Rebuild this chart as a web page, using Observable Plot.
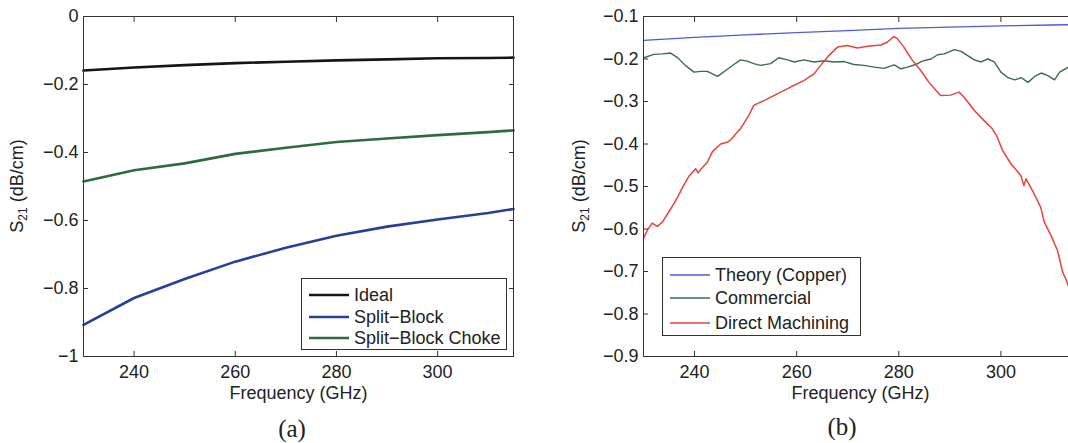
<!DOCTYPE html>
<html>
<head>
<meta charset="utf-8">
<script src="https://cdn.jsdelivr.net/npm/d3@7"></script>
<script src="https://cdn.jsdelivr.net/npm/@observablehq/plot@0.6"></script>
<style>
  html, body { margin: 0; padding: 0; background: #fff; overflow: hidden; }
  #fig { position: relative; width: 1068px; height: 443px; overflow: hidden;
         font-family: "Liberation Sans", Arial, sans-serif; color: #222; }
  .panel { position: absolute; top: 0; }
  .ylab { position: absolute; font-size: 18px; white-space: nowrap; line-height: 1;
          transform: translate(-50%, -50%) rotate(-90deg); }
  .ylab sub { font-size: 12px; vertical-align: -4px; }
  .cap { position: absolute; font-family: "Liberation Serif", "DejaVu Serif", serif; font-size: 25px;
         line-height: 1; transform: translate(-50%, -50%); }
  .legend { position: absolute; box-sizing: border-box; border: 1px solid #333; background: #fff; font-size: 18px; }
  .legend .row { position: absolute; left: 0; height: 22px; transform: translateY(-50%); display: flex; align-items: center; white-space: nowrap; }
  .legend .row svg { display: block; }
</style>
</head>
<body>
<div id="fig"></div>
<script>
// ---- Panel (a): simulated loss per unit length ----
const freqA   = [230, 240, 250, 260, 270, 280, 290, 300, 310, 315];
const idealA  = [-0.159, -0.150, -0.143, -0.137, -0.133, -0.129, -0.126, -0.123, -0.122, -0.121];
const splitA  = [-0.907, -0.828, -0.772, -0.721, -0.680, -0.645, -0.618, -0.597, -0.578, -0.566];
const chokeA  = [-0.485, -0.452, -0.432, -0.404, -0.386, -0.369, -0.359, -0.349, -0.340, -0.335];
const seriesNamesA = ["Ideal", "Split\u2212Block", "Split\u2212Block Choke"];
const seriesColorsA = ["#151515", "#26409a", "#2f6a40"];

// ---- Panel (b): measured loss per unit length ----
const theoryF = [230, 240, 250, 260, 270, 280, 290, 300, 310, 315];
const theoryV = [-0.156, -0.149, -0.143, -0.138, -0.133, -0.128, -0.125, -0.122, -0.120, -0.119];
const comF = [230.1,232.0,233.7,235.3,236.6,238.2,239.9,241.2,242.5,244.5,246.1,247.7,249.0,250.3,251.6,252.9,254.9,256.5,258.2,259.5,261.4,263.4,265.4,267.3,269.3,271.2,273.2,275.2,277.1,279.1,280.4,281.7,283.3,284.6,286.3,287.6,288.9,290.9,292.2,293.5,294.8,296.1,297.4,298.7,300.0,301.4,302.7,304.0,305.3,306.6,307.9,309.2,310.5,311.5,313.4,315];
const comV = [-0.197,-0.189,-0.188,-0.186,-0.196,-0.215,-0.231,-0.229,-0.229,-0.241,-0.227,-0.213,-0.202,-0.205,-0.211,-0.215,-0.211,-0.197,-0.202,-0.207,-0.202,-0.207,-0.204,-0.207,-0.206,-0.213,-0.215,-0.219,-0.222,-0.214,-0.223,-0.219,-0.213,-0.205,-0.200,-0.190,-0.188,-0.178,-0.182,-0.192,-0.202,-0.207,-0.200,-0.207,-0.231,-0.244,-0.249,-0.244,-0.255,-0.241,-0.233,-0.239,-0.249,-0.231,-0.218,-0.212];
const dirF = [230.0,230.7,231.7,232.7,233.7,234.3,235.3,236.6,237.9,238.9,240.2,240.7,241.2,242.5,243.5,245.1,246.4,247.1,248.1,249.0,250.6,251.6,252.8,253.6,256.2,258.8,261.4,263.4,264.7,266.3,268.0,269.9,271.9,273.9,276.5,277.8,279.0,279.7,281.0,282.6,284.3,285.9,287.3,288.2,290.2,291.8,292.8,294.8,296.7,298.3,299.3,300.3,302.0,303.9,304.5,304.9,306.5,307.8,308.5,309.8,311.1,312.1,312.7,313.3,314.0,315.0];
const dirV = [-0.622,-0.604,-0.586,-0.594,-0.584,-0.572,-0.553,-0.527,-0.496,-0.476,-0.458,-0.468,-0.460,-0.443,-0.418,-0.400,-0.396,-0.390,-0.376,-0.364,-0.333,-0.309,-0.302,-0.298,-0.282,-0.266,-0.251,-0.235,-0.215,-0.192,-0.172,-0.168,-0.174,-0.170,-0.167,-0.160,-0.147,-0.152,-0.172,-0.202,-0.227,-0.255,-0.274,-0.286,-0.285,-0.278,-0.290,-0.321,-0.345,-0.364,-0.384,-0.415,-0.447,-0.474,-0.498,-0.482,-0.517,-0.549,-0.584,-0.615,-0.651,-0.702,-0.717,-0.737,-0.755,-0.780];
const seriesNamesB = ["Theory (Copper)", "Commercial", "Direct Machining"];
const seriesColorsB = ["#4a5fd6", "#3c6b4b", "#e8423a"];

// ---- Axis ticks ----
const xTicks = [240, 260, 280, 300];
const xTickLabels = ["240", "260", "280", "300"];
const yTicksA = [0, -0.2, -0.4, -0.6, -0.8, -1];
const yTickLabelsA = ["0", "\u22120.2", "\u22120.4", "\u22120.6", "\u22120.8", "\u22121"];
const yTicksB = [-0.1, -0.2, -0.3, -0.4, -0.5, -0.6, -0.7, -0.8, -0.9];
const yTickLabelsB = ["\u22120.1", "\u22120.2", "\u22120.3", "\u22120.4", "\u22120.5", "\u22120.6", "\u22120.7", "\u22120.8", "\u22120.9"];
const xLabel = "Frequency (GHz)";

const pts = (fs, vs) => fs.map((f, i) => ({f, v: vs[i]}));
const labeler = (ticks, labels) => { const m = new Map(ticks.map((t, i) => [t, labels[i]])); return d => m.get(d); };

function axisMarks(xt, xl, yt, yl) {
  const ink = "#333";
  return [
    Plot.frame({stroke: ink, strokeWidth: 1}),
    // inward-pointing ticks on all four sides
    Plot.axisX(xt, {anchor: "bottom", tickSize: -5, tickFormat: () => "", label: null, stroke: ink}),
    Plot.axisX(xt, {anchor: "top", tickSize: -5, tickFormat: () => "", label: null, stroke: ink}),
    Plot.axisY(yt, {anchor: "left", tickSize: -5, tickFormat: () => "", label: null, stroke: ink}),
    Plot.axisY(yt, {anchor: "right", tickSize: -5, tickFormat: () => "", label: null, stroke: ink}),
    // tick labels
    Plot.axisX(xt, {anchor: "bottom", tickSize: 0, tickPadding: 9, tickFormat: labeler(xt, xl), label: null, fill: "#222"}),
    Plot.axisY(yt, {anchor: "left", tickSize: 0, tickPadding: 5, tickFormat: labeler(yt, yl), label: null, fill: "#222"}),
    Plot.text([xLabel], {frameAnchor: "bottom", lineAnchor: "middle", dy: 37, text: d => d, fill: "#222", fontSize: 18})
  ];
}

const style = {fontFamily: "Liberation Sans, Arial, sans-serif", fontSize: "18px", color: "#222", background: "transparent", overflow: "visible"};

const plotA = Plot.plot({
  width: 534, height: 400,
  marginLeft: 83, marginRight: 21, marginTop: 16, marginBottom: 44,
  style,
  x: {domain: [230, 315]},
  y: {domain: [-1, 0]},
  marks: [
    Plot.line(pts(freqA, idealA), {x: "f", y: "v", stroke: seriesColorsA[0], strokeWidth: 2.6}),
    Plot.line(pts(freqA, splitA), {x: "f", y: "v", stroke: seriesColorsA[1], strokeWidth: 2.6}),
    Plot.line(pts(freqA, chokeA), {x: "f", y: "v", stroke: seriesColorsA[2], strokeWidth: 2.6}),
    ...axisMarks(xTicks, xTickLabels, yTicksA, yTickLabelsA)
  ]
});

const plotB = Plot.plot({
  width: 560, height: 400,
  marginLeft: 109, marginRight: 17, marginTop: 16, marginBottom: 44,
  style,
  x: {domain: [230, 315]},
  y: {domain: [-0.9, -0.1]},
  marks: [
    Plot.line(pts(theoryF, theoryV), {x: "f", y: "v", stroke: seriesColorsB[0], strokeWidth: 1.3}),
    Plot.line(pts(comF, comV), {x: "f", y: "v", stroke: seriesColorsB[1], strokeWidth: 1.4}),
    Plot.line(pts(dirF, dirV), {x: "f", y: "v", stroke: seriesColorsB[2], strokeWidth: 1.5}),
    ...axisMarks(xTicks, xTickLabels, yTicksB, yTickLabelsB)
  ]
});

const fig = document.getElementById("fig");
function place(node, left) {
  node.classList.add("panel");
  node.style.left = left + "px";
  fig.appendChild(node);
}
place(plotA, 0);
place(plotB, 534);

function addYLabel(cx, cy) {
  const d = document.createElement("div");
  d.className = "ylab";
  d.style.left = cx + "px";
  d.style.top = cy + "px";
  d.innerHTML = "S<sub>21</sub> (dB/cm)";
  fig.appendChild(d);
}
addYLabel(18, 186);
addYLabel(580, 186);

function addCaption(text, cx, cy) {
  const d = document.createElement("div");
  d.className = "cap";
  d.style.left = cx + "px";
  d.style.top = cy + "px";
  d.textContent = text;
  fig.appendChild(d);
}
addCaption("(a)", 292, 428);
addCaption("(b)", 842, 426);

function addLegend(box, names, colors, width, rows) {
  const lg = document.createElement("div");
  lg.className = "legend";
  Object.assign(lg.style, {left: box.left + "px", top: box.top + "px", width: box.width + "px", height: box.height + "px"});
  names.forEach((name, i) => {
    const r = document.createElement("div");
    r.className = "row";
    r.style.top = rows[i] + "px";
    r.style.left = "7px";
    r.innerHTML = `<svg width="40" height="10"><line x1="0" x2="40" y1="5" y2="5" stroke="${colors[i]}" stroke-width="${width}"/></svg><span style="margin-left:5px">${name}</span>`;
    lg.appendChild(r);
  });
  fig.appendChild(lg);
}
addLegend({left: 301, top: 278, width: 206, height: 72}, seriesNamesA, seriesColorsA, 2.6, [16, 38, 59]);
addLegend({left: 662, top: 257, width: 199, height: 79}, seriesNamesB, seriesColorsB, 1.4, [17, 40, 65]);
</script>
</body>
</html>
